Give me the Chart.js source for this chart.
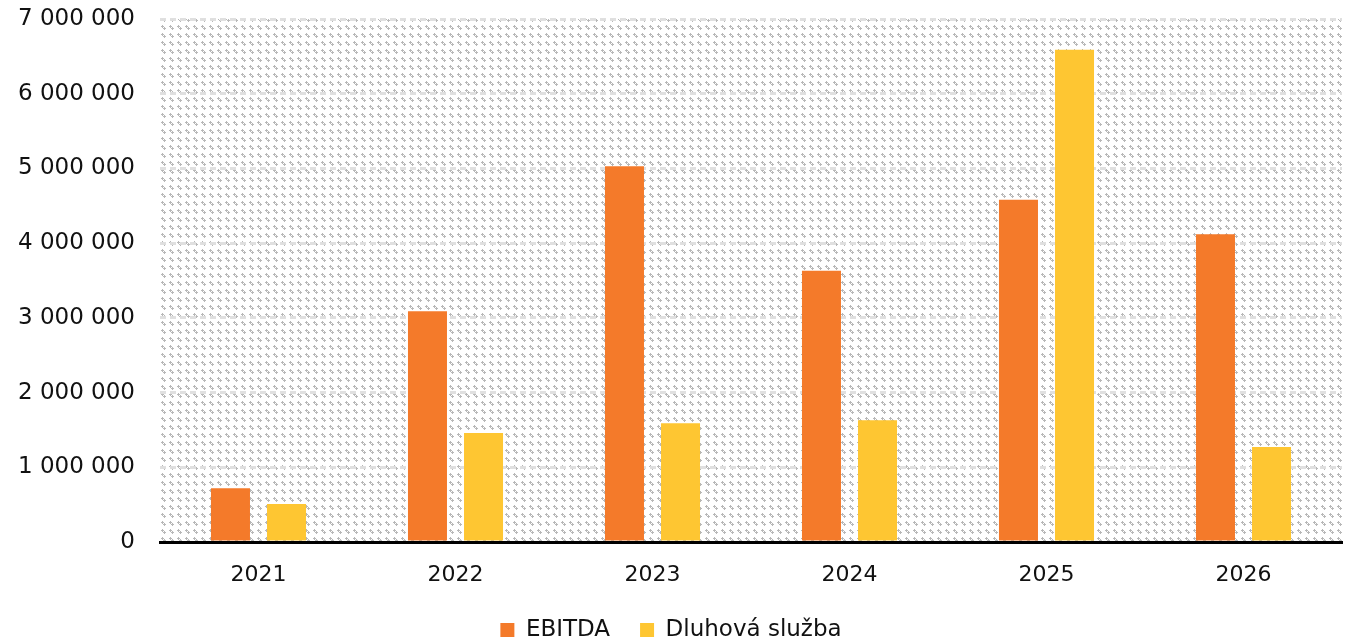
<!DOCTYPE html>
<html>
<head>
<meta charset="utf-8">
<script src="https://cdn.jsdelivr.net/npm/chart.js@4.4.0/dist/chart.umd.min.js"></script>
<style>
html,body{margin:0;padding:0;background:#fff;}
#wrap{width:1346px;height:642px;}
</style>
</head>
<body>
<div id="wrap"><canvas id="c" width="1346" height="642"></canvas></div>
<script>
const categories = ['2021','2022','2023','2024','2025','2026'];
const ebitda = [720000, 3090000, 5030000, 3630000, 4580000, 4120000];
const dluhovaSluzba = [510000, 1460000, 1590000, 1630000, 6590000, 1270000];
const seriesNames = ['EBITDA', 'Dluhová služba'];

function makePattern(){
  const t = document.createElement('canvas');
  t.width = 8; t.height = 8;
  const g = t.getContext('2d');
  g.fillStyle = '#ffffff';
  g.fillRect(0,0,8,8);
  g.fillStyle = '#b8b8b8';
  const plus = (x,y)=>{
    g.fillRect(x-1,y,3,1);
    g.fillRect(x,y-1,1,3);
  };
  plus(2,2); plus(4,4);
  return g.createPattern(t,'repeat');
}

const bgPlugin = {
  id:'bgPattern',
  beforeDraw(chart){
    const {ctx, chartArea:a} = chart;
    ctx.save();
    ctx.fillStyle = makePattern();
    ctx.fillRect(a.left, a.top, a.right-a.left, a.bottom-a.top);
    ctx.restore();
  }
};

const fmt = v => String(v).replace(/\B(?=(\d{3})+(?!\d))/g, ' ');
const FONT = 'DejaVu Sans';

new Chart(document.getElementById('c'), {
  type:'bar',
  data:{
    labels: categories,
    datasets:[
      {label: seriesNames[0], data: ebitda, backgroundColor:'#f47a2a'},
      {label: seriesNames[1], data: dluhovaSluzba, backgroundColor:'#fec632'}
    ]
  },
  plugins:[bgPlugin],
  options:{
    responsive:false,
    animation:false,
    devicePixelRatio:1,
    layout:{padding:{top:19,right:4,left:0,bottom:-9.5}},
    datasets:{bar:{categoryPercentage:0.569, barPercentage:0.696}},
    scales:{
      x:{
        afterFit(s){ s.height = 46.5; },
        grid:{display:false, drawTicks:false},
        border:{display:true, color:'#000', width:3},
        ticks:{color:'#111', font:{family:FONT, size:22}, padding:20}
      },
      y:{
        min:0, max:7000000,
        afterFit(s){ s.width = 160; },
        grid:{color:'rgba(222,222,222,0.95)', lineWidth:3, drawTicks:false},
        border:{display:false, dash:[6,4]},
        ticks:{stepSize:1000000, color:'#111', font:{family:FONT, size:23}, padding:2, callback:v=>fmt(v)+'\u2003'}
      }
    },
    plugins:{
      legend:{position:'bottom', labels:{color:'#111', font:{family:FONT, size:23}, boxWidth:14, boxHeight:14, padding:30}},
      tooltip:{enabled:false}
    }
  }
});
</script>
</body>
</html>
